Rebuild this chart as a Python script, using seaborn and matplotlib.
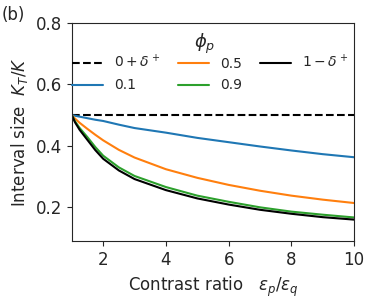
import seaborn as sns
import matplotlib
matplotlib.use("Agg")
import matplotlib.pyplot as plt
import pandas as pd

# values
ratio = [1, 1.1, 1.25, 1.5, 1.75, 2, 2.5, 3, 4, 5, 6, 7, 8, 9, 10]
phi_labels = ["0.1", "0.5", "0.9", r"$1-\delta^+$"]
size_01 = [0.5, 0.498, 0.495, 0.490, 0.485, 0.481, 0.469, 0.458, 0.443, 0.426, 0.412, 0.398, 0.385, 0.373, 0.363]
size_05 = [0.5, 0.489, 0.475, 0.455, 0.436, 0.418, 0.387, 0.362, 0.324, 0.296, 0.273, 0.254, 0.238, 0.225, 0.214]
size_09 = [0.5, 0.480, 0.458, 0.428, 0.396, 0.368, 0.330, 0.302, 0.266, 0.238, 0.218, 0.200, 0.186, 0.176, 0.167]
size_1 = [0.5, 0.477, 0.452, 0.419, 0.386, 0.358, 0.320, 0.292, 0.256, 0.229, 0.209, 0.192, 0.179, 0.168, 0.160]
size_0 = [0.5] * len(ratio)
colors = ["#1f77b4", "#ff7f0e", "#2ca02c", "black"]

df = pd.DataFrame({
    "ratio": ratio * 4,
    "size": size_01 + size_05 + size_09 + size_1,
    "phi": [lab for lab in phi_labels for _ in ratio],
})

sns.set_style("ticks")
fig = plt.figure(figsize=(3.82, 3.06), dpi=100)
ax = fig.add_axes([0.188, 0.212, 0.739, 0.713])

sns.lineplot(x=ratio, y=size_0, ax=ax, color="black", linestyle="--",
             linewidth=1.5, label=r"$0+\delta^+$")
sns.lineplot(data=df, x="ratio", y="size", hue="phi", palette=colors,
             linewidth=1.5, ax=ax)

ax.set_xlim(1, 10)
ax.set_ylim(0.09, 0.8)
ax.set_xticks([2, 4, 6, 8, 10])
ax.set_yticks([0.2, 0.4, 0.6, 0.8])
ax.tick_params(labelsize=12)
for s in ax.spines.values():
    s.set_visible(True)
ax.set_xlabel(r"Contrast ratio   $\varepsilon_p/\varepsilon_q$", fontsize=12)
ax.set_ylabel(r"Interval size  $K_T/K$", fontsize=12)

handles, labels = ax.get_legend_handles_labels()
leg = ax.legend(handles, labels, ncol=3, frameon=False, loc="upper center",
                fontsize=10, bbox_to_anchor=(0.49, 0.86), columnspacing=1.3,
                handlelength=2.2, labelspacing=0.55, borderpad=0,
                borderaxespad=0)
ax.text(0.472, 0.905, r"$\phi_p$", transform=ax.transAxes, fontsize=13,
        ha="center", va="center")

fig.text(0.005, 0.95, "(b)", fontsize=12, va="center")

fig.savefig("out.png", dpi=100)
